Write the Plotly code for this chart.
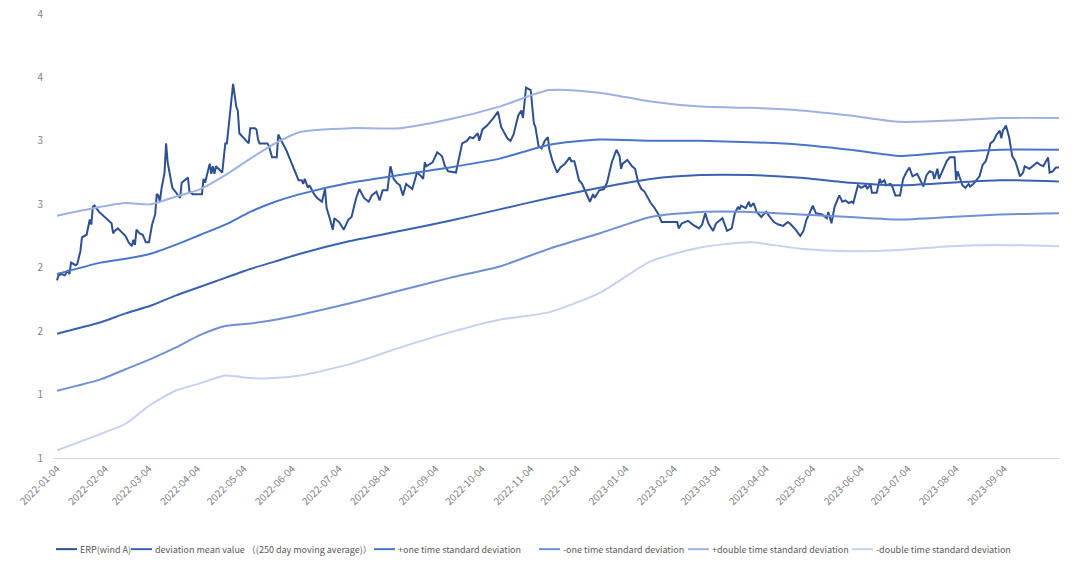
import plotly.graph_objects as go

# ---------------- data ----------------
erp_dates = [
    "2022-01-04","2022-01-05","2022-01-07","2022-01-09","2022-01-11","2022-01-12","2022-01-13","2022-01-16","2022-01-17","2022-01-19",
    "2022-01-20","2022-01-23","2022-01-25","2022-01-26","2022-01-27","2022-01-28","2022-01-31","2022-02-05","2022-02-08","2022-02-09",
    "2022-02-10","2022-02-12","2022-02-15","2022-02-17","2022-02-19","2022-02-21","2022-02-22","2022-02-23","2022-02-24","2022-02-26",
    "2022-02-28","2022-03-02","2022-03-04","2022-03-06","2022-03-08","2022-03-09","2022-03-10","2022-03-11","2022-03-12","2022-03-14",
    "2022-03-15","2022-03-16","2022-03-19","2022-03-22","2022-03-24","2022-03-25","2022-03-27","2022-03-29","2022-03-30","2022-04-01",
    "2022-04-07","2022-04-08","2022-04-09","2022-04-12","2022-04-13","2022-04-14","2022-04-15","2022-04-16","2022-04-20","2022-04-22",
    "2022-04-23","2022-04-27","2022-04-29","2022-04-30","2022-05-01","2022-05-07","2022-05-08","2022-05-11","2022-05-12","2022-05-13",
    "2022-05-14","2022-05-19","2022-05-20","2022-05-22","2022-05-25","2022-05-26","2022-05-28","2022-05-31","2022-06-03","2022-06-05",
    "2022-06-08","2022-06-10","2022-06-11","2022-06-12","2022-06-14","2022-06-15","2022-06-18","2022-06-20","2022-06-23","2022-06-25",
    "2022-06-26","2022-06-28","2022-06-30","2022-07-01","2022-07-04","2022-07-07","2022-07-10","2022-07-12","2022-07-15","2022-07-17",
    "2022-07-20","2022-07-23","2022-07-25","2022-07-28","2022-07-30","2022-08-01","2022-08-04","2022-08-06","2022-08-08","2022-08-10",
    "2022-08-12","2022-08-14","2022-08-16","2022-08-20","2022-08-23","2022-08-25","2022-08-27","2022-08-28","2022-08-29","2022-09-02",
    "2022-09-05","2022-09-08","2022-09-10","2022-09-12","2022-09-17","2022-09-21","2022-09-24","2022-09-26","2022-09-28","2022-10-01",
    "2022-10-02","2022-10-04","2022-10-07","2022-10-11","2022-10-14","2022-10-16","2022-10-17","2022-10-20","2022-10-22","2022-10-24",
    "2022-10-27","2022-10-29","2022-10-30","2022-11-01","2022-11-04","2022-11-06","2022-11-07","2022-11-09","2022-11-11","2022-11-13",
    "2022-11-15","2022-11-16","2022-11-18","2022-11-21","2022-11-23","2022-11-26","2022-11-29","2022-11-30","2022-12-02","2022-12-05",
    "2022-12-07","2022-12-09","2022-12-10","2022-12-12","2022-12-14","2022-12-15","2022-12-18","2022-12-21","2022-12-23","2022-12-26",
    "2022-12-29","2022-12-31","2023-01-01","2023-01-02","2023-01-05","2023-01-08","2023-01-10","2023-01-12","2023-01-14","2023-01-16",
    "2023-01-20","2023-01-22","2023-01-25","2023-01-27","2023-02-06","2023-02-07","2023-02-09","2023-02-11","2023-02-13","2023-02-16",
    "2023-02-20","2023-02-22","2023-02-24","2023-02-26","2023-03-01","2023-03-03","2023-03-07","2023-03-10","2023-03-13","2023-03-15",
    "2023-03-17","2023-03-18","2023-03-19","2023-03-22","2023-03-24","2023-03-25","2023-03-27","2023-03-29","2023-04-01","2023-04-04",
    "2023-04-07","2023-04-09","2023-04-12","2023-04-15","2023-04-18","2023-04-20","2023-04-23","2023-04-26","2023-04-28","2023-04-30",
    "2023-05-02","2023-05-04","2023-05-06","2023-05-10","2023-05-13","2023-05-14","2023-05-16","2023-05-18","2023-05-21","2023-05-23",
    "2023-05-25","2023-05-27","2023-05-29","2023-05-30","2023-06-02","2023-06-04","2023-06-07","2023-06-08","2023-06-10","2023-06-11",
    "2023-06-14","2023-06-16","2023-06-17","2023-06-19","2023-06-20","2023-06-23","2023-06-24","2023-06-26","2023-06-29","2023-07-01",
    "2023-07-03","2023-07-05","2023-07-07","2023-07-10","2023-07-14","2023-07-16","2023-07-18","2023-07-20","2023-07-21","2023-07-23",
    "2023-07-24","2023-07-27","2023-07-29","2023-07-31","2023-08-03","2023-08-04","2023-08-05","2023-08-08","2023-08-10","2023-08-12",
    "2023-08-13","2023-08-15","2023-08-17","2023-08-19","2023-08-21","2023-08-23","2023-08-25","2023-08-26","2023-08-28","2023-08-30",
    "2023-09-01","2023-09-02","2023-09-03","2023-09-05","2023-09-07","2023-09-09","2023-09-11","2023-09-14","2023-09-16","2023-09-17",
    "2023-09-20","2023-09-22","2023-09-25","2023-09-27","2023-09-29","2023-10-02","2023-10-03","2023-10-05","2023-10-07","2023-10-09",
]
erp_values = [
    2.40,2.44,2.45,2.44,2.48,2.45,2.54,2.52,2.53,2.63,
    2.74,2.76,2.88,2.84,2.98,2.99,2.94,2.88,2.85,2.77,
    2.79,2.81,2.77,2.75,2.70,2.67,2.72,2.68,2.80,2.77,
    2.76,2.70,2.70,2.84,2.92,3.08,3.07,3.02,3.12,3.25,
    3.48,3.33,3.13,3.08,3.05,3.17,3.19,3.21,3.10,3.08,
    3.08,3.20,3.17,3.32,3.24,3.30,3.24,3.30,3.25,3.48,
    3.48,3.95,3.77,3.74,3.56,3.48,3.60,3.60,3.59,3.51,
    3.48,3.48,3.46,3.37,3.37,3.55,3.50,3.43,3.34,3.28,
    3.19,3.19,3.16,3.20,3.13,3.15,3.08,3.05,3.02,3.12,
    2.97,2.89,2.80,2.89,2.86,2.80,2.88,2.90,3.05,3.12,
    3.05,3.02,3.07,3.10,3.03,3.11,3.11,3.30,3.20,3.17,
    3.15,3.07,3.16,3.12,3.25,3.23,3.20,3.33,3.30,3.33,
    3.41,3.38,3.30,3.26,3.25,3.48,3.50,3.53,3.52,3.56,
    3.50,3.59,3.62,3.68,3.73,3.61,3.59,3.52,3.50,3.55,
    3.70,3.74,3.68,3.92,3.90,3.64,3.61,3.46,3.44,3.50,
    3.53,3.43,3.34,3.25,3.29,3.32,3.37,3.34,3.34,3.19,
    3.16,3.10,3.08,3.02,3.08,3.05,3.11,3.12,3.17,3.33,
    3.43,3.38,3.28,3.32,3.35,3.30,3.28,3.17,3.12,3.10,
    3.01,2.98,2.92,2.86,2.86,2.81,2.85,2.86,2.87,2.84,
    2.81,2.84,2.93,2.85,2.79,2.85,2.89,2.79,2.81,2.93,
    2.98,2.96,2.99,2.97,3.02,2.98,3.01,2.94,2.90,2.94,
    2.89,2.86,2.84,2.83,2.86,2.84,2.80,2.75,2.79,2.88,
    2.93,2.99,2.93,2.92,2.89,2.94,2.85,2.98,3.07,3.02,
    3.03,3.01,3.02,3.01,3.15,3.13,3.15,3.12,3.16,3.09,
    3.09,3.20,3.17,3.19,3.15,3.16,3.14,3.07,3.07,3.20,
    3.25,3.29,3.22,3.24,3.14,3.23,3.26,3.25,3.20,3.28,
    3.20,3.29,3.34,3.37,3.37,3.19,3.26,3.15,3.13,3.16,
    3.14,3.16,3.19,3.22,3.31,3.34,3.42,3.48,3.50,3.55,
    3.58,3.52,3.58,3.62,3.53,3.38,3.34,3.22,3.25,3.30,
    3.28,3.30,3.33,3.31,3.30,3.37,3.25,3.26,3.29,3.29,
]

band_dates = [
    "2022-01-04","2022-02-01","2022-02-17","2022-03-05","2022-03-21","2022-04-06","2022-04-22","2022-05-08",
    "2022-05-24","2022-06-09","2022-07-11","2022-08-12","2022-09-13","2022-10-15","2022-11-16","2022-12-18",
    "2023-01-20","2023-02-21","2023-03-25","2023-04-26","2023-05-28","2023-06-29","2023-07-31","2023-09-01","2023-10-09",
]
mean_values = [1.98,2.07,2.14,2.20,2.28,2.35,2.42,2.49,2.55,2.61,2.71,2.79,2.87,2.96,3.05,3.13,3.20,3.23,3.23,3.21,3.17,3.15,3.17,3.19,3.18]
plus1_values = [2.45,2.54,2.57,2.61,2.68,2.76,2.84,2.94,3.02,3.08,3.17,3.23,3.29,3.36,3.47,3.51,3.50,3.50,3.49,3.47,3.43,3.38,3.41,3.43,3.43]
minus1_values = [1.53,1.62,1.70,1.78,1.87,1.97,2.04,2.06,2.09,2.13,2.22,2.32,2.42,2.51,2.65,2.77,2.90,2.94,2.94,2.92,2.90,2.88,2.90,2.92,2.93]
plus2_values = [2.91,2.98,3.01,3.00,3.06,3.12,3.23,3.36,3.48,3.57,3.60,3.60,3.67,3.77,3.90,3.88,3.81,3.77,3.76,3.74,3.70,3.65,3.66,3.68,3.68]
minus2_values = [1.06,1.19,1.27,1.42,1.53,1.59,1.65,1.63,1.63,1.65,1.74,1.87,1.99,2.09,2.15,2.30,2.55,2.66,2.70,2.65,2.63,2.64,2.67,2.68,2.67]

x_tick_labels = [
    "2022-01-04","2022-02-04","2022-03-04","2022-04-04","2022-05-04","2022-06-04","2022-07-04",
    "2022-08-04","2022-09-04","2022-10-04","2022-11-04","2022-12-04","2023-01-04","2023-02-04",
    "2023-03-04","2023-04-04","2023-05-04","2023-06-04","2023-07-04","2023-08-04","2023-09-04",
]
y_tick_values = [1, 1.5, 2, 2.5, 3, 3.5, 4, 4.5]
y_tick_labels = ["1", "1", "2", "2", "3", "3", "4", "4"]

series_names = [
    "ERP(wind A)",
    "deviation mean value （(250 day moving average)）",
    "+one time standard deviation",
    "-one time standard deviation",
    "+double time standard deviation",
    "-double time standard deviation",
]
series_colors = ["#2E5090", "#3B62B0", "#4A76C8", "#7190D4", "#9DB1E2", "#C6D1EE"]

# ---------------- figure ----------------
FONT = "Noto Sans CJK SC"
W, H = 1080, 567
ML, MR, MT, MB = 53, 20, 5, 109
PW, PH = W - ML - MR, H - MT - MB

fig = go.Figure()
fig.add_trace(go.Scatter(x=erp_dates, y=erp_values, mode="lines", name=series_names[0],
                         line=dict(color=series_colors[0], width=2)))
band_series = [mean_values, plus1_values, minus1_values, plus2_values, minus2_values]
for i, vals in enumerate(band_series, start=1):
    fig.add_trace(go.Scatter(x=band_dates, y=vals, mode="lines", name=series_names[i],
                             line=dict(color=series_colors[i], width=2, shape="spline", smoothing=0.6)))

# legend drawn as a single row (Excel-style compact spacing)
legend_text_px = [80, 155, 398, 563, 712, 876]
legend_y_px = 551
def px_x(p):
    return (p - ML) / PW
def px_y(p):
    return (H - MB - p) / PH
shapes, annotations = [], []
for name, color, tx in zip(series_names, series_colors, legend_text_px):
    shapes.append(dict(type="line", xref="paper", yref="paper",
                       x0=px_x(tx - 24), x1=px_x(tx - 3), y0=px_y(legend_y_px), y1=px_y(legend_y_px),
                       line=dict(color=color, width=2)))
    annotations.append(dict(text=name, xref="paper", yref="paper", x=px_x(tx - 2), y=px_y(legend_y_px),
                            xanchor="left", yanchor="middle", showarrow=False,
                            font=dict(family=FONT, size=9, color="#595959")))

fig.update_layout(
    width=W, height=H,
    margin=dict(l=ML, r=MR, t=MT, b=MB),
    paper_bgcolor="white", plot_bgcolor="white",
    font=dict(family=FONT, size=10, color="#7F7F7F"),
    showlegend=False,
    shapes=shapes, annotations=annotations,
)
fig.update_xaxes(
    type="date",
    range=["2022-01-01 10:00", "2023-10-09 16:00"],
    tickvals=x_tick_labels, ticktext=x_tick_labels,
    tickangle=-45, tickfont=dict(size=10, color="#7F7F7F"),
    showgrid=False, zeroline=False,
    showline=True, linecolor="#D9D9D9", linewidth=1,
    ticks="",
)
fig.update_yaxes(
    range=[1, 4.5],
    tickvals=y_tick_values, ticktext=y_tick_labels,
    tickfont=dict(size=10, color="#7F7F7F"),
    ticklabeloverflow="allow", ticklabelstandoff=9,
    showgrid=False, zeroline=False, showline=False, ticks="",
)

fig.write_html("out.html")
